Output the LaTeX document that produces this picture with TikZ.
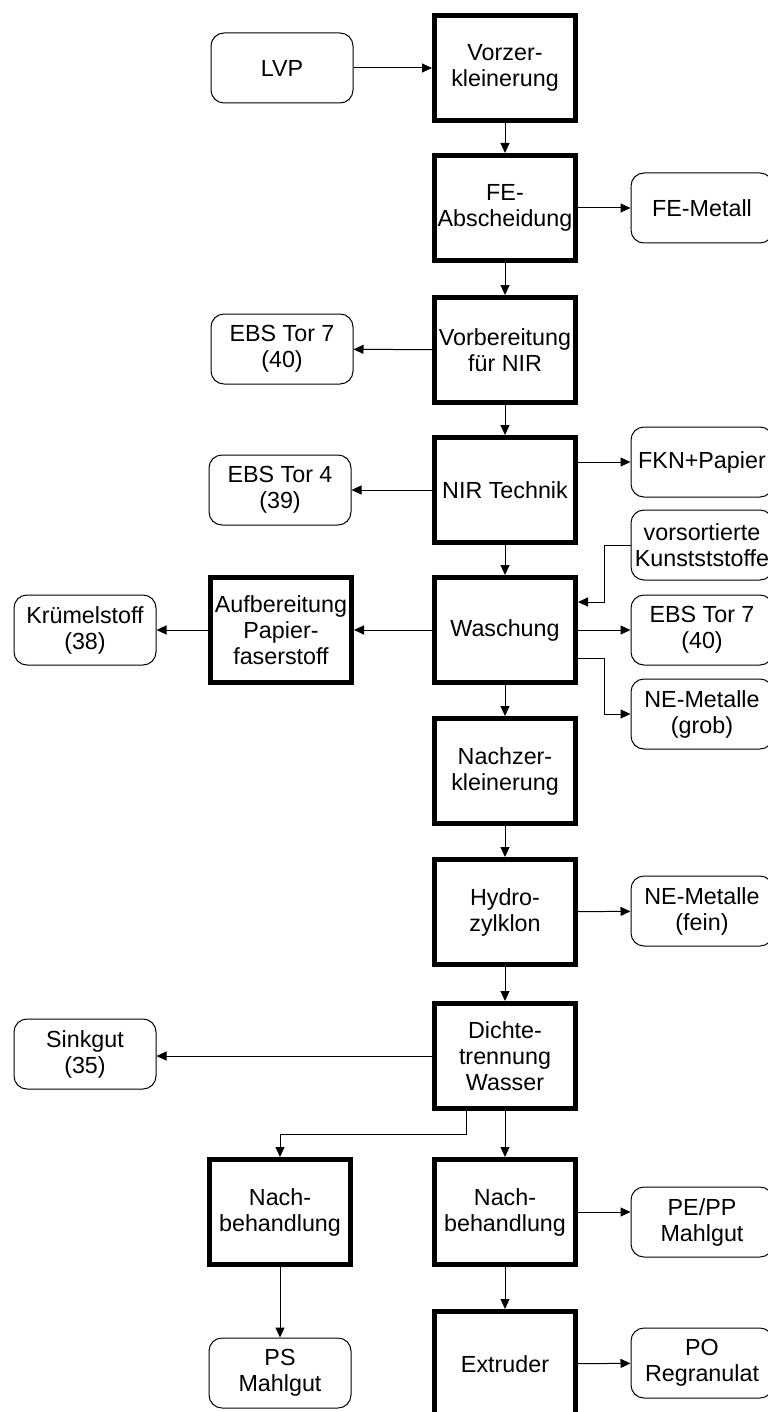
\documentclass[tikz,border=0pt]{standalone}
\usepackage{fontspec}
\setmainfont{Liberation Sans}
\usepackage{tikz}
\usetikzlibrary{arrows.meta}
\usetikzlibrary{positioning}
\tikzstyle{process}=[draw,line width=2.5pt,minimum width=70.5pt,minimum height=52.5pt,inner sep=1pt,align=center]
\tikzstyle{material}=[draw,line width=0.5pt,rounded corners=6.5pt,minimum width=71pt,minimum height=35pt,inner sep=1pt,align=center]
\tikzstyle{flow}=[line width=0.5pt,-{Triangle[length=5pt,width=4.5pt]}]

\begin{document}
\begin{tikzpicture}[x=0.5pt,y=-0.5pt,font=\fontsize{11.65}{13}\selectfont]
\useasboundingbox (0,0) rectangle (767,1412);
% main column
\node [process] (vorz) at (505,68) {Vorzer-\\kleinerung};
\node [process] (fe) at (505,208) {FE-\\Abscheidung};
\node [process] (vorb) at (505,350) {Vorbereitung\\für NIR};
\node [process] (nir) at (505,490) {NIR Technik};
\node [process] (wasch) at (505,630) {Waschung};
\node [process] (nachz) at (505,771) {Nachzer-\\kleinerung};
\node [process] (hydro) at (505,912) {Hydro-\\zylklon};
\node [process] (dichte) at (505,1056) {Dichte-\\trennung\\Wasser};
\node [process] (nachr) at (505,1212) {Nach-\\behandlung};
\node [process] (extr) at (505,1364) {Extruder};
\node [process] (aufb) at (281,630) {Aufbereitung\\Papier-\\faserstoff};
\node [process] (nachl) at (280,1212) {Nach-\\behandlung};
% inputs and outputs
\node [material] (lvp) at (282,68) {LVP};
\node [material] (femet) at (702,208) {FE-Metall};
\node [material] (ebsa) at (282,349) {EBS Tor 7\\(40)};
\node [material] (ebsb) at (280,490) {EBS Tor 4\\(39)};
\node [material] (fkn) at (702,462) {FKN+Papier};
\node [material] (vors) at (702,545) {vorsortierte\\Kunstststoffe};
\node [material] (ebsc) at (702,630) {EBS Tor 7\\(40)};
\node [material] (negrob) at (702,714) {NE-Metalle\\(grob)};
\node [material] (kruem) at (85,630) {Krümelstoff\\(38)};
\node [material] (nefein) at (702,911) {NE-Metalle\\(fein)};
\node [material] (sink) at (85,1054) {Sinkgut\\(35)};
\node [material] (pepp) at (702,1222) {PE/PP\\Mahlgut};
\node [material] (ps) at (280,1373) {PS\\Mahlgut};
\node [material] (po) at (702,1363) {PO\\Regranulat};
% bend points
\coordinate (kin) at (604,602);
\coordinate (gout) at (604,658);
\coordinate (split) at (466,1134);

\draw [flow] (lvp) -- (vorz);
\draw [flow] (vorz) -- (fe);
\draw [flow] (fe) -- (vorb);
\draw [flow] (vorb) -- (nir);
\draw [flow] (nir) -- (wasch);
\draw [flow] (wasch) -- (nachz);
\draw [flow] (nachz) -- (hydro);
\draw [flow] (hydro) -- (dichte);
\draw [flow] (dichte) -- (nachr);
\draw [flow] (nachr) -- (extr);
\draw [flow] (fe) -- (femet);
\draw [flow] (vorb) -- (ebsa);
\draw [flow] (nir) -- (ebsb);
\draw [flow] (nir.east |- fkn.west) -- (fkn.west);
\draw [flow] (vors.west) -| (kin) -- (kin -| wasch.east);
\draw [flow] (wasch) -- (ebsc);
\draw [flow] (gout -| wasch.east) -- (gout) |- (negrob.west);
\draw [flow] (wasch) -- (aufb);
\draw [flow] (aufb) -- (kruem);
\draw [flow] (hydro) -- (nefein);
\draw [flow] (dichte.west) -- (dichte.west -| sink.east);
\draw [flow] (split |- dichte.south) -- (split) -| (nachl.north);
\draw [flow] (nachr.east) -- (nachr.east -| pepp.west);
\draw [flow] (nachl) -- (ps);
\draw [flow] (extr) -- (po);
\end{tikzpicture}
\end{document}
